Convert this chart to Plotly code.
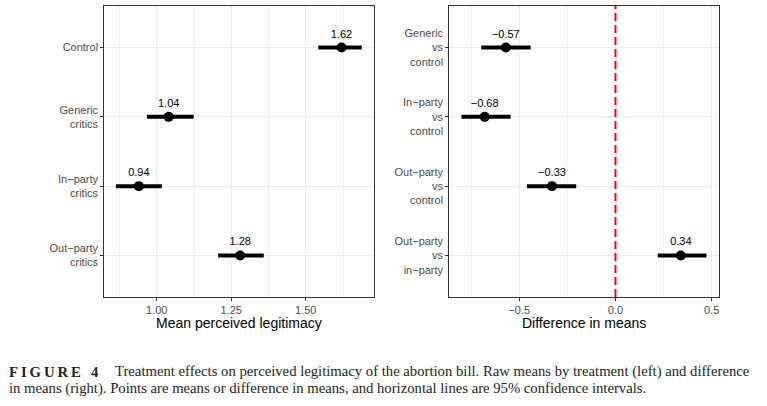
import plotly.graph_objects as go
from plotly.subplots import make_subplots

# Left panel: raw means
left_labels = ["Control", "Generic<br>critics", "In\u2212party<br>critics", "Out\u2212party<br>critics"]
left_means = [1.62, 1.04, 0.94, 1.28]
left_lo = [1.542, 0.967, 0.863, 1.206]
left_hi = [1.688, 1.124, 1.017, 1.359]
left_text = ["1.62", "1.04", "0.94", "1.28"]

# Right panel: differences in means
right_labels = ["Generic<br>vs<br>control", "In\u2212party<br>vs<br>control",
                "Out\u2212party<br>vs<br>control", "Out\u2212party<br>vs<br>in\u2212party"]
right_means = [-0.57, -0.68, -0.33, 0.34]
right_lo = [-0.698, -0.801, -0.460, 0.220]
right_hi = [-0.441, -0.545, -0.204, 0.473]
right_text = ["\u22120.57", "\u22120.68", "\u22120.33", "0.34"]

left_ticks = [1.00, 1.25, 1.50]
left_ticktext = ["1.00", "1.25", "1.50"]
right_ticks = [-0.5, 0.0, 0.5]
right_ticktext = ["\u22120.5", "0.0", "0.5"]

ypos = [4, 3, 2, 1]

fig = make_subplots(rows=1, cols=2)

def add_panel(col, means, lo, hi, text):
    for m, a, b, y in zip(means, lo, hi, ypos):
        fig.add_trace(go.Scatter(x=[a, b], y=[y, y], mode="lines",
                                 line=dict(color="black", width=4),
                                 showlegend=False, hoverinfo="skip"), row=1, col=col)
    fig.add_trace(go.Scatter(x=means, y=ypos, mode="markers+text", text=text,
                             textposition="top center",
                             textfont=dict(family="Liberation Sans, Arial", size=11, color="black"),
                             marker=dict(color="black", size=10),
                             showlegend=False), row=1, col=col)

add_panel(1, left_means, left_lo, left_hi, left_text)
add_panel(2, right_means, right_lo, right_hi, right_text)

# red dashed zero line
fig.add_trace(go.Scatter(x=[0, 0], y=[0.4, 4.6], mode="lines",
                         line=dict(color="#FF0000", width=2, dash="8px,4px"),
                         showlegend=False, hoverinfo="skip"), row=1, col=2)

common_x = dict(showline=True, mirror=True, linecolor="#333333", linewidth=1,
                ticks="outside", ticklen=3, tickcolor="#333333",
                tickfont=dict(family="Liberation Sans, Arial", size=11, color="#4D4D4D"),
                showgrid=True, gridcolor="#EBEBEB", gridwidth=1, zeroline=False)
common_y = dict(showline=True, mirror=True, linecolor="#333333", linewidth=1,
                ticks="outside", ticklen=3, tickcolor="#333333",
                tickfont=dict(family="Liberation Sans, Arial", size=11, color="#4D4D4D"),
                showgrid=True, gridcolor="#EBEBEB", gridwidth=1, zeroline=False,
                range=[0.4, 4.6], tickvals=ypos, domain=[1 - 297 / 406, 1 - 6 / 406])

fig.update_xaxes(common_x, row=1, col=1)
fig.update_xaxes(common_x, row=1, col=2)
fig.update_layout(
    xaxis=dict(domain=[104.3 / 767, 374.3 / 767], range=[0.824, 1.730],
               tickvals=left_ticks, ticktext=left_ticktext,
               minor=dict(tickvals=[0.875, 1.125, 1.375, 1.625], showgrid=True,
                          gridcolor="#F0F0F0", gridwidth=1, ticks="")),
    xaxis2=dict(domain=[449.3 / 767, 719.3 / 767], range=[-0.864, 0.540],
                tickvals=right_ticks, ticktext=right_ticktext,
                minor=dict(tickvals=[-0.75, -0.25, 0.25], showgrid=True,
                           gridcolor="#F0F0F0", gridwidth=1, ticks="")),
    yaxis=dict(common_y, ticktext=left_labels),
    yaxis2=dict(common_y, ticktext=right_labels),
    width=767, height=406,
    margin=dict(l=0, r=0, t=0, b=0),
    paper_bgcolor="white", plot_bgcolor="white",
)

title_font = dict(family="Liberation Sans, Arial", size=14, color="black")
fig.add_annotation(text="Mean perceived legitimacy", x=(104.3 + 374.3) / 2 / 767,
                   y=1 - 323 / 406, xref="paper", yref="paper", showarrow=False,
                   font=title_font, xanchor="center", yanchor="middle")
fig.add_annotation(text="Difference in means", x=(449.3 + 719.3) / 2 / 767,
                   y=1 - 323 / 406, xref="paper", yref="paper", showarrow=False,
                   font=title_font, xanchor="center", yanchor="middle")

cap_font = dict(family="Liberation Serif, Times New Roman", size=14.7, color="#231F20")
fig.add_annotation(text="<b>F\u2009I\u2009G\u2009U\u2009R\u2009E\u2002\u20094</b>", x=7 / 767, y=1 - 371.5 / 406,
                   xref="paper", yref="paper", showarrow=False, font=cap_font,
                   xanchor="left", yanchor="middle")
fig.add_annotation(text="Treatment effects on perceived legitimacy of the abortion bill. Raw means by treatment (left) and difference",
                   x=113 / 767, y=1 - 371.5 / 406, xref="paper", yref="paper", showarrow=False,
                   font=cap_font, xanchor="left", yanchor="middle")
fig.add_annotation(text="in means (right). Points are means or difference in means, and horizontal lines are 95% confidence intervals.",
                   x=7 / 767, y=1 - 388.5 / 406, xref="paper", yref="paper", showarrow=False,
                   font=cap_font, xanchor="left", yanchor="middle")

fig.write_html("out.html", config={"displayModeBar": False},
               post_script="document.body.style.margin='0';")
